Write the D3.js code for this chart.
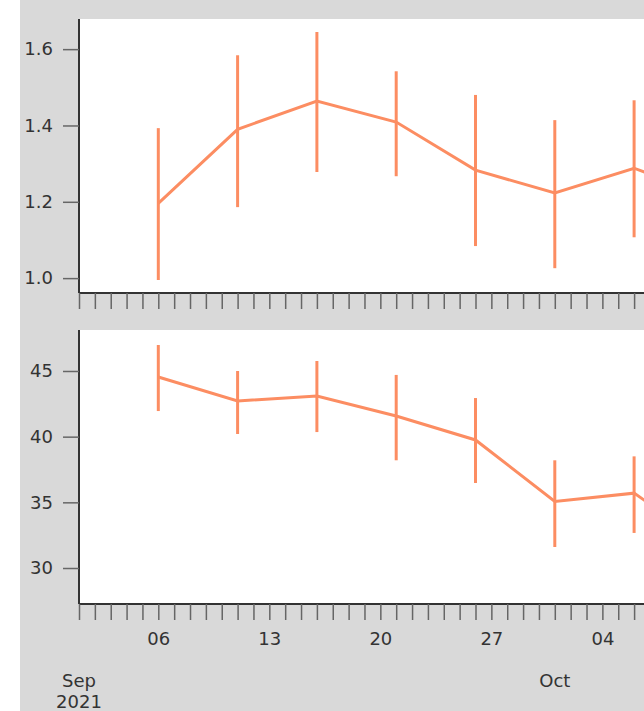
<!DOCTYPE html>
<html>
<head>
<meta charset="utf-8">
<script src="https://cdn.jsdelivr.net/npm/d3@7"></script>
<style>
  body { margin: 0; background: #fff; }
  text { font-family: "DejaVu Sans", sans-serif; }
</style>
</head>
<body>
<div id="chart"></div>
<script>
// sample dates, every 5 days (last one runs off the right edge)
var dates = ["2021-09-06", "2021-09-11", "2021-09-16", "2021-09-21", "2021-09-26", "2021-10-01", "2021-10-06", "2021-10-11"];

// top panel: mean with lower/upper
var topMean = [1.196, 1.390, 1.464, 1.409, 1.283, 1.223, 1.288, 1.21];
var topLow  = [0.995, 1.186, 1.278, 1.267, 1.084, 1.026, 1.107, 1.02];
var topHigh = [1.393, 1.584, 1.645, 1.542, 1.480, 1.414, 1.466, 1.40];
var topTicks = [1.0, 1.2, 1.4, 1.6];

// bottom panel
var botMean = [44.54, 42.72, 43.10, 41.57, 39.75, 35.07, 35.70, 31.5];
var botLow  = [41.95, 40.20, 40.35, 38.20, 36.47, 31.60, 32.67, 28.5];
var botHigh = [46.98, 45.00, 45.76, 44.70, 42.94, 38.20, 38.50, 34.5];
var botTicks = [30, 35, 40, 45];

var W = 644, H = 711;
var color = "#fc8d62";
var parse = d3.utcParse("%Y-%m-%d");

var svg = d3.select("#chart").append("svg")
    .attr("width", W)
    .attr("height", H);

svg.append("rect")
    .attr("x", 20).attr("y", 0)
    .attr("width", W - 20).attr("height", H)
    .attr("fill", "#d9d9d9");

var left = 79;
var pxPerDay = 15.86;
var x = d3.scaleUtc()
    .domain([parse("2021-09-01"), parse("2021-10-12")])
    .range([left, left + 41 * pxPerDay]);

// only the days that are visible in the window
var dayTicks = d3.utcDay.range(parse("2021-09-01"), x.invert(W));

function panel(top, bottom, domain, ticks, mean, low, high, fmt, labels) {
  var y = d3.scaleLinear().domain(domain).range([bottom, top]);

  svg.append("rect")
      .attr("x", left).attr("y", top)
      .attr("width", W - left).attr("height", bottom - top)
      .attr("fill", "#fff");

  var data = dates.map(function(d, i) {
    return {date: parse(d), mean: mean[i], low: low[i], high: high[i]};
  });

  var g = svg.append("g");

  g.selectAll(".err")
      .data(data)
      .enter().append("line")
      .attr("class", "err")
      .attr("x1", function(d) { return x(d.date); })
      .attr("x2", function(d) { return x(d.date); })
      .attr("y1", function(d) { return y(d.low); })
      .attr("y2", function(d) { return y(d.high); })
      .attr("stroke", color)
      .attr("stroke-width", 3);

  g.append("path")
      .datum(data)
      .attr("fill", "none")
      .attr("stroke", color)
      .attr("stroke-width", 3)
      .attr("d", d3.line()
        .x(function(d) { return x(d.date); })
        .y(function(d) { return y(d.mean); }));

  // y axis
  var yAxis = svg.append("g")
      .attr("transform", "translate(" + left + ",0)")
      .call(d3.axisLeft(y).tickValues(ticks).tickFormat(fmt).tickSize(16).tickPadding(10));
  yAxis.select(".domain").attr("stroke", "#333").attr("stroke-width", 2)
      .attr("d", "M0," + top + "V" + bottom);
  yAxis.selectAll(".tick line").attr("stroke", "#666").attr("stroke-width", 1.5);
  yAxis.selectAll(".tick text").attr("fill", "#333").style("font-size", "18px")
      .style("font-family", "DejaVu Sans");

  // x axis: a tick every day, label on Mondays
  var xAxis = svg.append("g")
      .attr("transform", "translate(0," + bottom + ")")
      .call(d3.axisBottom(x).tickValues(dayTicks).tickSize(16)
        .tickFormat(function(d) {
          return labels && d3.utcMonday(d).getTime() === d.getTime() ? d3.utcFormat("%d")(d) : "";
        }).tickPadding(12));
  xAxis.select(".domain").attr("stroke", "#333").attr("stroke-width", 2)
      .attr("d", "M" + left + ",0H" + W);
  xAxis.selectAll(".tick line").attr("stroke", "#666").attr("stroke-width", 1.5);
  xAxis.selectAll(".tick text").attr("fill", "#333").style("font-size", "18px")
      .style("font-family", "DejaVu Sans");

  if (labels) {
    var months = [
      {date: parse("2021-09-01"), lines: ["Sep", "2021"]},
      {date: parse("2021-10-01"), lines: ["Oct"]}
    ];
    months.forEach(function(m) {
      var t = svg.append("text")
          .attr("x", x(m.date))
          .attr("y", bottom + 83)
          .attr("text-anchor", "middle")
          .attr("fill", "#333")
          .style("font-size", "18px");
      m.lines.forEach(function(l, i) {
        t.append("tspan").attr("x", x(m.date)).attr("dy", i ? 21 : 0).text(l);
      });
    });
  }
}

panel(19, 293, [0.961, 1.679], topTicks, topMean, topLow, topHigh, d3.format(".1f"), false);
panel(330, 604, [27.26, 48.12], botTicks, botMean, botLow, botHigh, d3.format("d"), true);
</script>
</body>
</html>
